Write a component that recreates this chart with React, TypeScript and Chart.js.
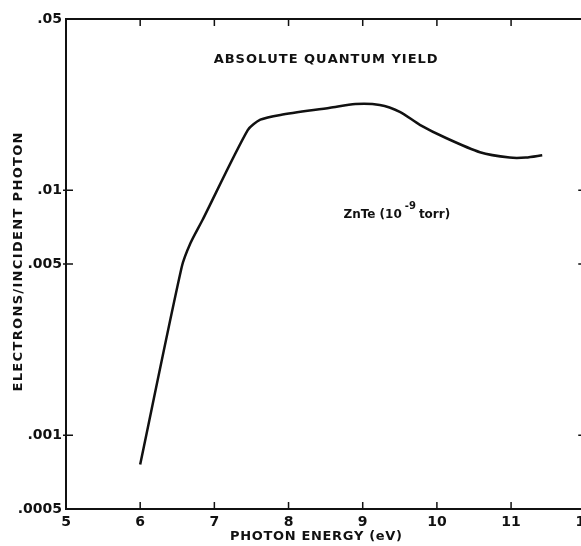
import React, { useEffect, useRef } from 'react';
import { Chart, registerables } from 'chart.js';

Chart.register(...registerables);

const photonEnergy = [6.0, 6.56, 6.68, 6.84, 7.45, 7.62, 7.89, 8.56, 8.9, 9.23, 9.5, 9.77, 10.13, 10.58, 10.98, 11.2, 11.42];
const quantumYield = [0.00076, 0.00486, 0.0061, 0.00756, 0.0176, 0.0194, 0.0203, 0.0217, 0.0225, 0.0223, 0.0209, 0.0185, 0.0163, 0.0143, 0.0136, 0.0136, 0.0139];

const yTickValues = [0.0005, 0.001, 0.005, 0.01, 0.05];
const yTickLabels = ['.0005', '.001', '.005', '.01', '.05'];
const xTickValues = [5, 6, 7, 8, 9, 10, 11, 12];
const xTickLabels = ['5', '6', '7', '8', '9', '10', '11', '12'];

const FONT = '"DejaVu Sans", "Liberation Sans", sans-serif';
const INK = '#111111';

function drawSpaced(ctx: CanvasRenderingContext2D, text: string, cx: number, cy: number, target: number) {
  const chars = Array.from(text);
  const widths = chars.map((c) => ctx.measureText(c).width);
  const sum = widths.reduce((a, b) => a + b, 0);
  const sp = chars.length > 1 ? (target - sum) / (chars.length - 1) : 0;
  let x = cx - target / 2;
  ctx.textAlign = 'left';
  ctx.textBaseline = 'middle';
  chars.forEach((c, i) => {
    ctx.fillText(c, x, cy);
    x += widths[i] + sp;
  });
}

const framePlugin = {
  id: 'frameAndTexts',
  afterDraw(chart: any) {
    const ctx: CanvasRenderingContext2D = chart.ctx;
    const { left, right, top, bottom } = chart.chartArea;
    const xs = chart.scales.x;
    const ys = chart.scales.y;
    ctx.save();
    ctx.strokeStyle = INK;
    ctx.fillStyle = INK;
    ctx.lineWidth = 2;
    ctx.beginPath();
    ctx.moveTo(left, top);
    ctx.lineTo(right, top);
    ctx.lineTo(right, bottom);
    ctx.stroke();
    ctx.lineWidth = 1.5;
    const tl = 7;
    xs.ticks.forEach((t: any) => {
      const px = xs.getPixelForValue(t.value);
      if (px <= left + 1 || px >= right - 1) return;
      ctx.beginPath();
      ctx.moveTo(px, bottom);
      ctx.lineTo(px, bottom - tl);
      ctx.moveTo(px, top);
      ctx.lineTo(px, top + tl);
      ctx.stroke();
    });
    ys.ticks.forEach((t: any) => {
      const py = ys.getPixelForValue(t.value);
      if (py <= top + 1 || py >= bottom - 1) return;
      ctx.beginPath();
      ctx.moveTo(left - 3, py);
      ctx.lineTo(left + tl, py);
      ctx.moveTo(right, py);
      ctx.lineTo(right - tl, py);
      ctx.stroke();
    });

    ctx.font = `bold 13px ${FONT}`;
    drawSpaced(ctx, 'PHOTON ENERGY (eV)', 316, 537, 172);
    ctx.save();
    ctx.translate(19, 262);
    ctx.rotate(-Math.PI / 2);
    drawSpaced(ctx, 'ELECTRONS/INCIDENT PHOTON', 0, 0, 259);
    ctx.restore();

    const tx = xs.getPixelForValue(8.5);
    const ty = ys.getPixelForValue(0.034);
    ctx.font = `bold 13px ${FONT}`;
    drawSpaced(ctx, 'ABSOLUTE QUANTUM YIELD', tx, ty, 224);

    let ax = xs.getPixelForValue(8.74);
    const ay = ys.getPixelForValue(0.0077);
    ctx.textAlign = 'left';
    ctx.textBaseline = 'alphabetic';
    ctx.font = `bold 12px ${FONT}`;
    const part1 = 'ZnTe (10';
    ctx.fillText(part1, ax, ay);
    ax += ctx.measureText(part1).width + 3;
    ctx.font = `bold 10px ${FONT}`;
    const sup = '-9';
    ctx.fillText(sup, ax, ay - 9);
    ax += ctx.measureText(sup).width + 3;
    ctx.font = `bold 12px ${FONT}`;
    ctx.fillText('torr)', ax, ay);
    ctx.restore();
  },
};

export default function App() {
  const ref = useRef<HTMLCanvasElement | null>(null);
  useEffect(() => {
    if (!ref.current) return;
    const chart = new Chart(ref.current, {
      type: 'line',
      data: {
        datasets: [
          {
            data: photonEnergy.map((x, i) => ({ x, y: quantumYield[i] })),
            borderColor: INK,
            borderWidth: 2.5,
            pointRadius: 0,
            fill: false,
            tension: 0.25,
          },
        ],
      },
      options: {
        animation: false,
        responsive: false,
        devicePixelRatio: 1,
        layout: { padding: { top: 19, right: 14, bottom: 0, left: 0 } },
        plugins: { legend: { display: false }, tooltip: { enabled: false } },
        scales: {
          x: {
            type: 'linear',
            min: 5,
            max: 12,
            grid: { display: false, drawTicks: false },
            border: { display: true, color: INK, width: 2 },
            afterBuildTicks: (scale: any) => {
              scale.ticks = xTickValues.map((value) => ({ value }));
            },
            afterFit: (scale: any) => {
              scale.height = 37;
            },
            ticks: {
              autoSkip: false,
              maxRotation: 0,
              padding: 5,
              color: INK,
              font: { family: FONT, size: 14, weight: 'bold' },
              callback: (v: any) => xTickLabels[xTickValues.indexOf(v)] ?? '',
            },
          },
          y: {
            type: 'logarithmic',
            min: 0.0005,
            max: 0.05,
            grid: { display: false, drawTicks: false },
            border: { display: true, color: INK, width: 2 },
            afterBuildTicks: (scale: any) => {
              scale.ticks = yTickValues.map((value) => ({ value }));
            },
            afterFit: (scale: any) => {
              scale.width = 66;
            },
            ticks: {
              autoSkip: false,
              padding: 4,
              color: INK,
              font: { family: FONT, size: 14, weight: 'bold' },
              callback: (v: any) => yTickLabels[yTickValues.indexOf(v)] ?? '',
            },
          },
        },
      },
      plugins: [framePlugin],
    } as any);
    return () => chart.destroy();
  }, []);

  return (
    <div style={{ position: 'fixed', left: 0, top: 0, width: 581, height: 546, overflow: 'hidden', background: '#fff' }}>
      <canvas ref={ref} width={600} height={546} style={{ display: 'block', width: 600, height: 546 }} />
    </div>
  );
}
